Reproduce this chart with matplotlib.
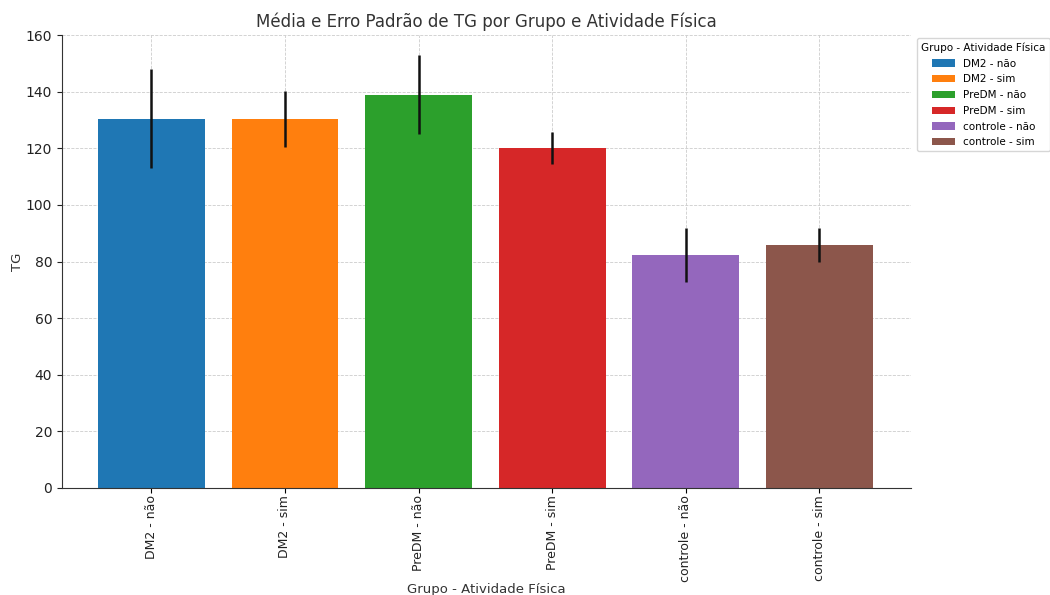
import matplotlib.pyplot as plt
import numpy as np

categorias = ['DM2 - não', 'DM2 - sim', 'PreDM - não', 'PreDM - sim', 'controle - não', 'controle - sim']
medias = [130.5, 130.4, 139.0, 120.1, 82.4, 86.0]
erros = [17.5, 10.0, 14.0, 5.5, 9.5, 6.0]
cores = ['#1f77b4', '#ff7f0e', '#2ca02c', '#d62728', '#9467bd', '#8c564b']

fig, ax = plt.subplots(figsize=(10.5, 5.95), dpi=100)
x = np.arange(len(categorias))
for i in range(len(categorias)):
    ax.bar(x[i], medias[i], width=0.8, color=cores[i], label=categorias[i], zorder=2)
    ax.errorbar(x[i], medias[i], yerr=erros[i], fmt='none', ecolor='#111111', elinewidth=1.8, capsize=0, zorder=3)

ax.set_xlim(-0.67, 5.69)
ax.set_ylim(0, 160)
ax.set_xticks(x)
ax.set_xticklabels(categorias, rotation=90, fontsize=9, color='#222222')
ax.tick_params(axis='x', pad=1.5)
ax.tick_params(axis='y', labelsize=10, colors='#222222')
ax.set_title('Média e Erro Padrão de TG por Grupo e Atividade Física', fontsize=12, color='#333333')
ax.set_xlabel('Grupo - Atividade Física', fontsize=9.5, color='#333333', labelpad=1)
ax.set_ylabel('TG', fontsize=9.5, color='#333333', labelpad=1)
ax.grid(True, linestyle='--', linewidth=0.6, color='#cccccc', zorder=0)
ax.set_axisbelow(True)
ax.spines['top'].set_visible(False)
ax.spines['right'].set_visible(False)
for s in ['left', 'bottom']:
    ax.spines[s].set_color('#333333')

leg = ax.legend(title='Grupo - Atividade Física', bbox_to_anchor=(1.003, 1.0), loc='upper left',
                fontsize=7.5, title_fontsize=7.5, frameon=True, borderaxespad=0.3,
                handlelength=2.2, handletextpad=0.8, labelspacing=0.55)
leg.get_frame().set_edgecolor('#cccccc')

fig.subplots_adjust(left=0.059, right=0.868, top=0.941, bottom=0.18)
fig.savefig('out.png', dpi=100)
